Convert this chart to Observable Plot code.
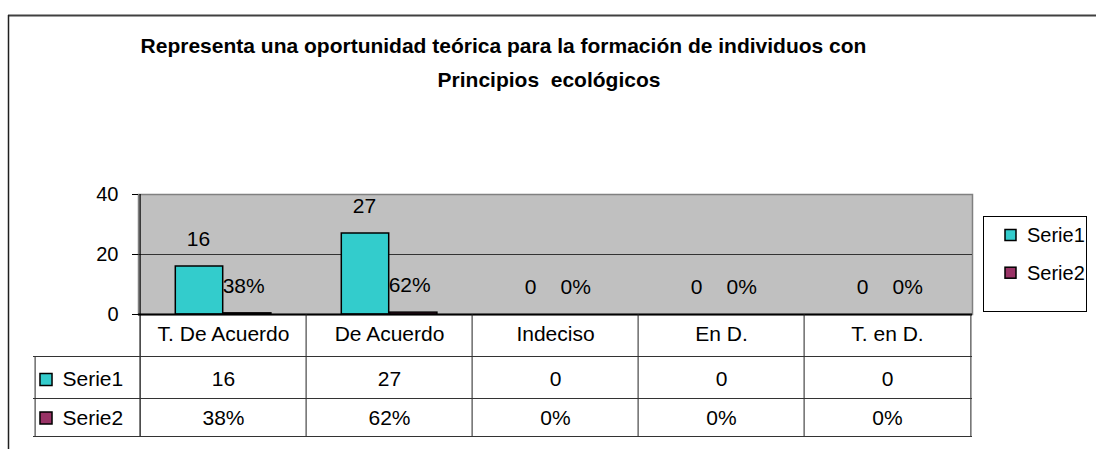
<!DOCTYPE html>
<html><head><meta charset="utf-8">
<script src="https://cdn.jsdelivr.net/npm/d3@7"></script>
<script src="https://cdn.jsdelivr.net/npm/@observablehq/plot@0.6"></script>
<style>body{margin:0;background:#fff;} #chart{width:1096px;height:449px;}</style>
</head><body><div id="chart"></div>
<script>
const categories = ["T. De Acuerdo", "De Acuerdo", "Indeciso", "En D.", "T. en D."];
const serie1 = [16, 27, 0, 0, 0];
const serie2 = [0.38, 0.62, 0, 0, 0];
const seriesNames = ["Serie1", "Serie2"];
const seriesColors = ["#33CCCC", "#993366"];
const yTicks = [0, 20, 40];
const titleLines = ["Representa una oportunidad teórica para la formación de individuos con", "Principios  ecológicos"];

const W = 1096, H = 449, mL = 138, mR = 124, mT = 194, mB = 135;
const bandW = (W - mL - mR) / categories.length;
const barW = 48.2, gapL = 35.3;
const rows = categories.map((c, i) => ({cat: c, s1: serie1[i], s2: serie2[i]}));
const pct = d3.format(".0%");
const font = "'Liberation Sans', Arial, sans-serif";
const off1 = gapL + barW / 2 - bandW / 2;
const off2 = gapL + barW * 1.5 - bandW / 2 - 4;
const cell = {frameAnchor: "bottom", lineAnchor: "middle"};

const chart = Plot.plot({
  width: W, height: H,
  marginLeft: mL, marginRight: mR, marginTop: mT, marginBottom: mB,
  style: {fontFamily: font, fontSize: "21px", background: "transparent", color: "#000"},
  x: {domain: categories, padding: 0, axis: null},
  y: {domain: [0, 40], ticks: yTicks, label: null},
  marks: [
    Plot.frame({fill: "#C0C0C0", stroke: "#808080", strokeWidth: 1.5}),
    Plot.gridY({ticks: [20], stroke: "#333", strokeOpacity: 1}),
    Plot.axisY({ticks: yTicks, tickSize: 6, tickPadding: 14, label: null, stroke: "#000", fontSize: 20}),
    Plot.barY(rows, {x: "cat", y: "s1", fill: seriesColors[0], stroke: "#000", strokeWidth: 1.5,
      insetLeft: gapL, insetRight: bandW - gapL - barW}),
    Plot.barY(rows, {x: "cat", y: "s2", fill: seriesColors[1], stroke: "#000", strokeWidth: 1.5,
      insetLeft: gapL + barW, insetRight: bandW - gapL - 2 * barW}),
    Plot.ruleY([0], {stroke: "#000", strokeWidth: 2}),
    Plot.text(rows, {x: "cat", y: "s1", text: d => String(d.s1), dx: off1 - 1, dy: -27}),
    Plot.text(rows, {x: "cat", y: "s2", text: d => pct(d.s2), dx: off2, dy: -27}),
    // data table
    Plot.ruleX([categories[0]], {dx: -bandW / 2, stroke: "#000", strokeWidth: 1.2, insetBottom: -122}),
    Plot.ruleX(categories.slice(1), {dx: -bandW / 2, stroke: "#222", insetTop: 120, insetBottom: -122}),
    Plot.ruleX([categories[categories.length - 1]], {dx: bandW / 2, stroke: "#222", insetTop: 120, insetBottom: -122}),
    Plot.ruleX([categories[0]], {dx: -bandW / 2 - 105, stroke: "#222", insetTop: 162, insetBottom: -122}),
    Plot.ruleY([0], {dy: 42, insetLeft: -105, stroke: "#333"}),
    Plot.ruleY([0], {dy: 84, insetLeft: -105, stroke: "#333"}),
    Plot.ruleY([0], {dy: 122, insetLeft: -105, stroke: "#333"}),
    Plot.text(categories, {x: d => d, text: d => d, ...cell, dy: 19.5}),
    Plot.text(rows, {x: "cat", text: d => String(d.s1), ...cell, dy: 65}),
    Plot.text(rows, {x: "cat", text: d => pct(d.s2), ...cell, dy: 103.5}),
    Plot.text([seriesNames[0]], {text: d => d, frameAnchor: "bottom-left", lineAnchor: "middle", textAnchor: "start", dx: -76, dy: 65}),
    Plot.text([seriesNames[1]], {text: d => d, frameAnchor: "bottom-left", lineAnchor: "middle", textAnchor: "start", dx: -76, dy: 103.5}),
    Plot.dot([seriesNames[0]], {frameAnchor: "bottom-left", dx: -92.5, dy: 65, symbol: "square", r: 6.8, fill: seriesColors[0], stroke: "#000", strokeWidth: 1.5}),
    Plot.dot([seriesNames[1]], {frameAnchor: "bottom-left", dx: -92.5, dy: 103.5, symbol: "square", r: 6.8, fill: seriesColors[1], stroke: "#000", strokeWidth: 1.5})
  ]
});
document.getElementById("chart").appendChild(chart);

const svg = d3.select(chart);
// outer chart frame
svg.append("line").attr("x1", 8).attr("x2", W).attr("y1", 15.5).attr("y2", 15.5).attr("stroke", "#404040").attr("stroke-width", 2);
svg.append("line").attr("x1", 8.5).attr("x2", 8.5).attr("y1", 15).attr("y2", H).attr("stroke", "#202020").attr("stroke-width", 1.5);
// title
const titleX = [503.5, 549], titleY = [46, 80];
titleLines.forEach((t, i) => {
  svg.append("text").attr("x", titleX[i]).attr("y", titleY[i]).attr("dy", "0.35em")
    .attr("text-anchor", "middle").attr("font-family", font).attr("font-weight", "bold")
    .attr("font-size", 21).attr("fill", "#000").text(t);
});
// legend
const lg = svg.append("g");
lg.append("rect").attr("x", 983.5).attr("y", 216.5).attr("width", 103).attr("height", 95)
  .attr("fill", "#fff").attr("stroke", "#000");
seriesNames.forEach((s, i) => {
  const cy = 235 + i * 37.7;
  lg.append("rect").attr("x", 1005).attr("y", cy - 5.5).attr("width", 11).attr("height", 11)
    .attr("fill", seriesColors[i]).attr("stroke", "#000").attr("stroke-width", 1.5);
  lg.append("text").attr("x", 1027).attr("y", cy).attr("dy", "0.35em").attr("text-anchor", "start")
    .attr("font-family", font).attr("font-size", 20).attr("fill", "#000").text(s);
});
</script>
</body></html>
